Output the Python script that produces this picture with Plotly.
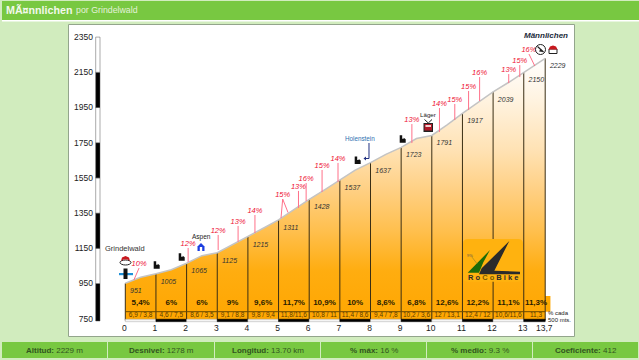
import plotly.graph_objects as go

# ---------- data ----------
km_labels = ["0","1","2","3","4","5","6","7","8","9","10","11","12","13","13,7"]
km_marks = [0,1,2,3,4,5,6,7,8,9,10,11,12,13,13.7]
elev_marks = [951,1005,1065,1125,1215,1311,1428,1537,1637,1723,1791,1917,2039,2150,2229]
profile_km = [0,0.5,1,1.5,2,2.5,3,3.5,4,4.5,5,5.5,6,6.5,7,7.5,8,8.5,9,9.5,10,10.5,11,11.5,12,12.5,13,13.7]
profile_elev = [951,985,1005,1028,1065,1108,1125,1170,1215,1264,1311,1370,1428,1482,1537,1594,1637,1684,1723,1774,1791,1851,1917,1979,2039,2092,2150,2229]
seg_km = [0.5,1.5,2.5,3.5,4.5,5.5,6.5,7.5,8.5,9.5,10.5,11.5,12.5,13.4]
seg_pct = ["5,4%","6%","6%","9%","9,6%","11,7%","10,9%","10%","8,6%","6,8%","12,6%","12,2%","11,1%","11,3%"]
seg_half = ["6,9 / 3,8","4,6 / 7,5","8,6 / 3,5","9,1 / 8,8","9,8 / 9,4","11,8/11,6","10,8 / 11","11,4 / 8,6","9,4 / 7,8","10,2 / 3,6","12 / 13,1","12,4 / 12","10,6/11,6","11,3"]
y_ticks = [750,950,1150,1350,1550,1750,1950,2150,2350]

peak_labels = ["10%","12%","12%","13%","14%","15%","13%","16%","15%","14%","13%","14%","15%","15%","16%","13%","15%","16%"]
peak_tip_km = [0.45,2.05,3.03,3.68,4.23,5.135,5.65,5.9,6.42,6.94,9.35,10.25,10.75,11.2,11.56,12.51,12.87,13.17]
peak_tip_elev = [1038,1152,1226,1277,1339,1430,1476,1521,1595,1635,1856,1947,1970,2044,2123,2140,2191,2254]
peak_foot_km = [0.28,2.05,3.03,3.68,4.23,5.08,5.65,5.9,6.42,6.94,9.35,10.25,10.75,11.2,11.56,12.51,12.87,13.36]
peak_foot_elev = [970,1072,1140,1187,1237,1322,1379,1419,1470,1527,1748,1811,1879,1936,1987,2089,2123,2186]
extra_leg_km = 5.31
extra_leg_elev = 1353

footer_labels = ["Altitud:","Desnivel:","Longitud:","% máx:","% medio:","Coeficiente:"]
footer_values = ["2229 m","1278 m","13.70 km","16 %","9.3 %","412"]

# ---------- page geometry ----------
W, H = 639, 360
X0, PXKM = 125.3, 30.65
Y950, PXM = 283.5, 0.176
BASE = 740
FONT = "Liberation Sans, Arial, sans-serif"

def fx(px): return px / W
def fy(py): return 1 - py / H
def yval(py): return 950 + (Y950 - py) / PXM

shapes, anns = [], []

def rect(x0, y0, x1, y1, fill, line=None, lw=1, layer="below"):
    shapes.append(dict(type="rect", xref="paper", yref="paper", x0=fx(x0), x1=fx(x1),
                       y0=fy(y0), y1=fy(y1), fillcolor=fill, layer=layer,
                       line=dict(color=line, width=lw) if line else dict(width=0)))

def poly(points, fill, line=None, lw=1, close=True, layer="above"):
    d = "M" + " L".join(f"{fx(a):.5f},{fy(b):.5f}" for a, b in points) + (" Z" if close else "")
    shapes.append(dict(type="path", xref="paper", yref="paper", path=d, fillcolor=fill, layer=layer,
                       line=dict(color=line, width=lw) if line else dict(width=0)))

def ellipse(x0, y0, x1, y1, fill, line=None, lw=1):
    shapes.append(dict(type="circle", xref="paper", yref="paper", x0=fx(x0), x1=fx(x1),
                       y0=fy(y0), y1=fy(y1), fillcolor=fill, layer="above",
                       line=dict(color=line, width=lw) if line else dict(width=0)))

def label(px, py, text, size, color, anchor="center"):
    anns.append(dict(xref="paper", yref="paper", x=fx(px), y=fy(py), text=text, showarrow=False,
                     xanchor=anchor, yanchor="middle", borderpad=0,
                     font=dict(family=FONT, size=size, color=color)))

# page
rect(0, 0, W, H, "#D1ECBE")
rect(2, 1, W, 20, "#78C841")
rect(2, 20, W, 21.5, "#FFFFFF")
rect(68.5, 24.5, 574.5, 336.5, "#FFFFFF", "#93A58C", 1)
label(5, 9.5, "<b>MÃ¤nnlichen</b>", 10.7, "#F2F8EC", "left")
label(74.5, 10, "por Grindelwald", 8.8, "#E4F2DA", "left")

# footer
edges = [2, 108, 215, 321, 427, 533, 639]
for i in range(6):
    rect(edges[i], 342, edges[i+1] - 1, 358, "#78C841")
    label((edges[i] + edges[i+1]) / 2, 350,
          f"<b>{footer_labels[i]}</b> {footer_values[i]}", 8, "#31551F")

# altitude scale strip
for i in range(len(y_ticks) - 1):
    black = (i % 2 == 0)
    lo = y_ticks[i] - (13 if i == 0 else 0)
    shapes.append(dict(type="rect", xref="paper", yref="y", x0=fx(95.7), x1=fx(100), y0=lo, y1=y_ticks[i+1],
                       fillcolor="#000000" if black else "#FFFFFF", layer="below",
                       line=dict(color="#555555", width=0.5)))

# band under the profile
shapes.append(dict(type="rect", xref="x", yref="y", x0=13.7, x1=13.87, y0=yval(311.7), y1=yval(296),
                   fillcolor="#FFA800", line=dict(width=0), layer="below"))
for i in range(len(km_marks) - 1):
    black = (i % 2 == 1)
    shapes.append(dict(type="rect", xref="x", yref="y", x0=km_marks[i], x1=km_marks[i+1],
                       y0=yval(321.7), y1=yval(319.2), layer="above",
                       fillcolor="#000000" if black else "#F4F4F4",
                       line=dict(color="#000000" if black else "#AAAAAA", width=0.5)))

# logo
def L(X, Y): return (455 + X / 3, 235 + Y / 3)
def rounded(x0, y0, x1, y1, r):
    d = (f"M{fx(x0+r):.5f},{fy(y0):.5f} L{fx(x1-r):.5f},{fy(y0):.5f} Q{fx(x1):.5f},{fy(y0):.5f} {fx(x1):.5f},{fy(y0+r):.5f} "
         f"L{fx(x1):.5f},{fy(y1-r):.5f} Q{fx(x1):.5f},{fy(y1):.5f} {fx(x1-r):.5f},{fy(y1):.5f} "
         f"L{fx(x0+r):.5f},{fy(y1):.5f} Q{fx(x0):.5f},{fy(y1):.5f} {fx(x0):.5f},{fy(y1-r):.5f} "
         f"L{fx(x0):.5f},{fy(y0+r):.5f} Q{fx(x0):.5f},{fy(y0):.5f} {fx(x0+r):.5f},{fy(y0):.5f} Z")
    shapes.append(dict(type="path", xref="paper", yref="paper", path=d, fillcolor="#FFB20F",
                       line=dict(width=0), layer="above"))
rounded(463, 239, 523, 281.7, 5)
poly([L(105,45), L(38,113), L(72,113), L(85,82)], "#1E6B08")
poly([L(163,18), L(80,100), L(72,118), L(195,118), L(195,110), L(118,107)], "#2B2B2B")
poly([L(50,65), L(66,86)], "rgba(0,0,0,0)", "#A08A20", 0.7, close=False)
label(*L(44,60), "9%", 4, "#555555")
label(*L(113,128), "<b>R o <span style='color:#7A5A00'>C o</span> B i k e</b>", 7.5, "#2B2B2B")

# icons
def boot(cx, cy):
    poly([(cx-3,cy-4.5),(cx-0.5,cy-4.5),(cx-0.5,cy-1),(cx+1,cy-1),(cx+1,cy-2),(cx+3,cy-0.5),(cx+3,cy+3),(cx-3,cy+3)], "#111111")
for c in [(156.7,265.7),(181.7,257.7),(357.7,161),(402.7,139.7)]:
    boot(*c)

# hat, Grindelwald
ellipse(120, 260, 131, 265, "#FFFFFF", "#222222", 1)
poly([(121,261),(122,257.5),(125.5,256),(129,257.5),(130,261),(127.5,259.5),(123.5,259.5)], "#C8181E")
# cross, Grindelwald
rect(119, 273, 133, 275.2, "#2090D8", layer="above")
rect(123.5, 268.5, 127.5, 279, "#111111", layer="above")
# house, Aspen
poly([(201,243),(204.5,246.5),(204.5,251),(197.5,251),(197.5,246.5)], "#1C3FE0")
rect(199.8, 247, 202.2, 251, "#FFFFFF", layer="above")
# arrow, Holenstein
poly([(369,143),(369,158.5),(365,158.5)], "rgba(0,0,0,0)", "#203080", 1, close=False)
poly([(363.5,158.5),(366,156.5),(366,160.5)], "#203080")
# gondola, Läger
poly([(424.5,119.5),(428.3,123),(432,119.5)], "rgba(0,0,0,0)", "#222222", 1, close=False)
rect(423.5, 123, 433, 132, "#222222", layer="above")
rect(424.5, 124, 432, 130.5, "#B01828", layer="above")
rect(425.5, 125, 431, 127, "#F0D0D0", layer="above")
# summit icons
ellipse(535.5, 44.5, 545.5, 54.5, "#FFFFFF", "#222222", 1)
poly([(537.5,46.5),(543.5,52)], "rgba(0,0,0,0)", "#222222", 1.2, close=False)
poly([(540.5,49),(543.5,52),(539,51.5)], "#222222")
rect(549, 49, 557, 53.5, "#FFFFFF", "#222222", 1, layer="above")
poly([(548.5,49.5),(550,46.5),(553,45.5),(556,46.5),(557.5,49.5)], "#C8181E")

# place names
label(124.5, 248.5, "Grindelwald", 7.5, "#333333")
label(201, 237, "Aspen", 6.5, "#222222")
label(359.5, 138, "Holenstein", 6.3, "#2F6FB0")
label(428, 115, "Läger", 6.2, "#222222")
label(546, 36, "<b><i>Männlichen</i></b>", 8, "#1A2A3A")
label(546.7, 312.7, "% cada", 6, "#222222", "left")
label(546.7, 320.3, "500 mts.", 6, "#222222", "left")

# ---------- traces ----------
fig = go.Figure()

fig.add_trace(go.Scatter(
    x=profile_km + [13.7, 0], y=profile_elev + [BASE, BASE], mode="none", fill="toself",
    fillgradient=dict(type="vertical", start=BASE, stop=2229, colorscale=[
        [0, "#FFA600"], [0.19, "#FFAD10"], [0.34, "#FFBF4D"], [0.5, "#FFD084"],
        [0.65, "#FFE2B4"], [0.84, "#FFF3E0"], [1, "#FFFFFF"]]),
    hoverinfo="skip", showlegend=False))

vx, vy = [], []
for k, e in zip(km_marks, elev_marks):
    vx += [k, k, None]
    vy += [e, BASE, None]
fig.add_trace(go.Scatter(x=vx, y=vy, mode="lines", line=dict(color="#3A2E14", width=1), showlegend=False, hoverinfo="skip"))

fig.add_trace(go.Scatter(x=profile_km, y=profile_elev, mode="lines", line=dict(color="#C4C4C4", width=1.5),
                         showlegend=False, hoverinfo="skip"))

# table rule
fig.add_trace(go.Scatter(x=[0, 13.7], y=[yval(311.7)] * 2, mode="lines", line=dict(color="#6B4A00", width=1),
                         showlegend=False, hoverinfo="skip"))

# gradient leaders
lx, ly = [], []
for a, b, c, d in zip(peak_foot_km, peak_foot_elev, peak_tip_km, peak_tip_elev):
    lx += [a, c, None]
    ly += [b, d, None]
lx += [extra_leg_km, peak_tip_km[5], None]
ly += [extra_leg_elev, peak_tip_elev[5], None]
fig.add_trace(go.Scatter(x=lx, y=ly, mode="lines", line=dict(color="#FF7088", width=1), showlegend=False, hoverinfo="skip"))
fig.add_trace(go.Scatter(x=peak_tip_km, y=peak_tip_elev, mode="text", text=peak_labels, textposition="top center",
                         textfont=dict(family=FONT, size=7.5, color="#EE1133", style="italic"),
                         showlegend=False, hoverinfo="skip"))

fig.add_trace(go.Scatter(x=km_marks, y=elev_marks, mode="markers+text", text=[str(e) for e in elev_marks],
                         textposition="bottom right", marker=dict(size=6, opacity=0),
                         textfont=dict(family=FONT, size=7, color="#333333", style="italic"),
                         showlegend=False, hoverinfo="skip"))
fig.add_trace(go.Scatter(x=seg_km, y=[yval(302.5)] * len(seg_km), mode="text", text=[f"<b>{s}</b>" for s in seg_pct],
                         textposition="middle center", textfont=dict(family=FONT, size=8, color="#2A1C00"),
                         showlegend=False, hoverinfo="skip"))
fig.add_trace(go.Scatter(x=seg_km, y=[yval(315.5)] * len(seg_km), mode="text", text=seg_half,
                         textposition="middle center", textfont=dict(family=FONT, size=6.5, color="#5A3C00"),
                         showlegend=False, hoverinfo="skip"))

fig.update_layout(
    width=W, height=H, margin=dict(l=0, r=0, t=0, b=0), paper_bgcolor="#D1ECBE", plot_bgcolor="rgba(0,0,0,0)",
    showlegend=False, shapes=shapes, annotations=anns,
    xaxis=dict(range=[(0 - X0) / PXKM, (W - X0) / PXKM], domain=[0, 1], anchor="free", position=1 - 321 / H,
               tickmode="array", tickvals=km_marks, ticktext=km_labels, ticks="", showgrid=False, zeroline=False,
               showline=False, tickfont=dict(family=FONT, size=8.5, color="#222222"), ticklabelshift=-1),
    yaxis=dict(range=[yval(H), yval(0)], domain=[0, 1], anchor="free", position=93 / W,
               tickmode="array", tickvals=y_ticks, ticktext=[str(v) for v in y_ticks], ticks="", showgrid=False,
               zeroline=False, showline=False, tickfont=dict(family=FONT, size=8.5, color="#222222")),
)
fig.write_html("out.html", config={"displayModeBar": False},
               post_script="document.documentElement.style.background='#D1ECBE';document.body.style.margin='0';document.body.style.overflow='hidden';")
